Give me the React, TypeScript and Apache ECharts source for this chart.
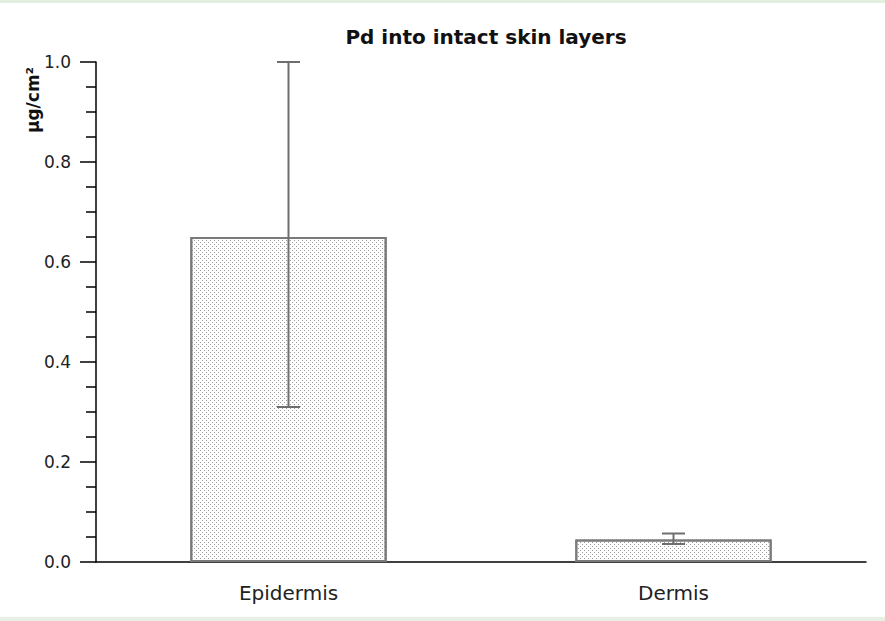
import React, { useEffect, useRef } from "react";
import * as echarts from "echarts";

const categories = ["Epidermis", "Dermis"];
const means = [0.65, 0.045];
const errLow = [0.31, 0.036];
const errHigh = [1.0, 0.057];
const yTicks = [0, 0.2, 0.4, 0.6, 0.8, 1.0];
const titleText = "Pd into intact skin layers";
const yName = "μg/cm²";

export default function App() {
  const ref = useRef<HTMLDivElement>(null);
  useEffect(() => {
    if (!ref.current) return;
    const chart = echarts.init(ref.current, null, { renderer: "svg" });
    const font = "DejaVu Sans, Verdana, sans-serif";
    const errData = categories.map((c, i) => [i, errLow[i], errHigh[i]]);
    chart.setOption({
      animation: false,
      backgroundColor: "#ffffff",
      title: {
        text: titleText,
        left: 481,
        textAlign: "center",
        top: 22,
        textStyle: { fontFamily: font, fontSize: 20, fontWeight: "bold", color: "#111" },
      },
      graphic: [
        { type: "rect", shape: { x: 0, y: 0, width: 885, height: 3 }, style: { fill: "#e4efe2" } },
        { type: "rect", shape: { x: 0, y: 617, width: 885, height: 4 }, style: { fill: "#e8f0e6" } },
        {
          type: "text",
          x: 33,
          y: 100,
          rotation: Math.PI / 2,
          style: {
            text: yName,
            fontFamily: font,
            fontSize: 17,
            fontWeight: "bold",
            fill: "#111",
            align: "center",
            verticalAlign: "middle",
          },
        },
      ],
      grid: { left: 96, right: 19, top: 62, bottom: 59, containLabel: false },
      xAxis: {
        type: "category",
        data: categories,
        axisLine: { lineStyle: { color: "#000", width: 1.5 } },
        axisTick: { alignWithLabel: true, length: 15, lineStyle: { color: "#000", width: 1.5 } },
        axisLabel: { fontFamily: font, fontSize: 20, color: "#222", margin: 21 },
      },
      yAxis: {
        type: "value",
        min: 0,
        max: 1,
        interval: 0.2,
        axisLine: { show: true, lineStyle: { color: "#000", width: 1.5 } },
        axisTick: { show: true, length: 16, lineStyle: { color: "#000", width: 1.5 } },
        minorTick: { show: true, splitNumber: 4, length: 10, lineStyle: { color: "#000", width: 1.5 } },
        splitLine: { show: false },
        axisLabel: {
          fontFamily: font,
          fontSize: 17,
          color: "#222",
          margin: 25,
          formatter: (v: number) => (yTicks.some((t) => Math.abs(t - v) < 1e-9) ? v.toFixed(1) : ""),
        },
      },
      series: [
        {
          type: "bar",
          data: means,
          barWidth: "51%",
          itemStyle: {
            color: "#ffffff",
            borderColor: "#7a7a7a",
            borderWidth: 2,
            decal: {
              symbol: "rect",
              symbolSize: 1,
              color: "#9a9a9a",
              dashArrayX: [[1, 3], [0, 2, 1, 1]],
              dashArrayY: [1, 1],
              rotation: 0,
            },
          },
        },
        {
          type: "custom",
          data: errData,
          renderItem: (params: any, api: any) => {
            const x = api.value(0);
            const lo = api.coord([x, api.value(1)]);
            const hi = api.coord([x, api.value(2)]);
            const half = 11.5;
            const style = { stroke: "#6e6e6e", lineWidth: 2 };
            return {
              type: "group",
              children: [
                { type: "line", shape: { x1: lo[0], y1: lo[1], x2: hi[0], y2: hi[1] }, style },
                { type: "line", shape: { x1: hi[0] - half, y1: hi[1], x2: hi[0] + half, y2: hi[1] }, style },
                { type: "line", shape: { x1: lo[0] - half, y1: lo[1], x2: lo[0] + half, y2: lo[1] }, style },
              ],
            };
          },
          z: 5,
        },
      ],
    });
    return () => chart.dispose();
  }, []);
  return (
    <div
      ref={ref}
      style={{ position: "fixed", left: 0, top: 0, width: 885, height: 621 }}
    />
  );
}
